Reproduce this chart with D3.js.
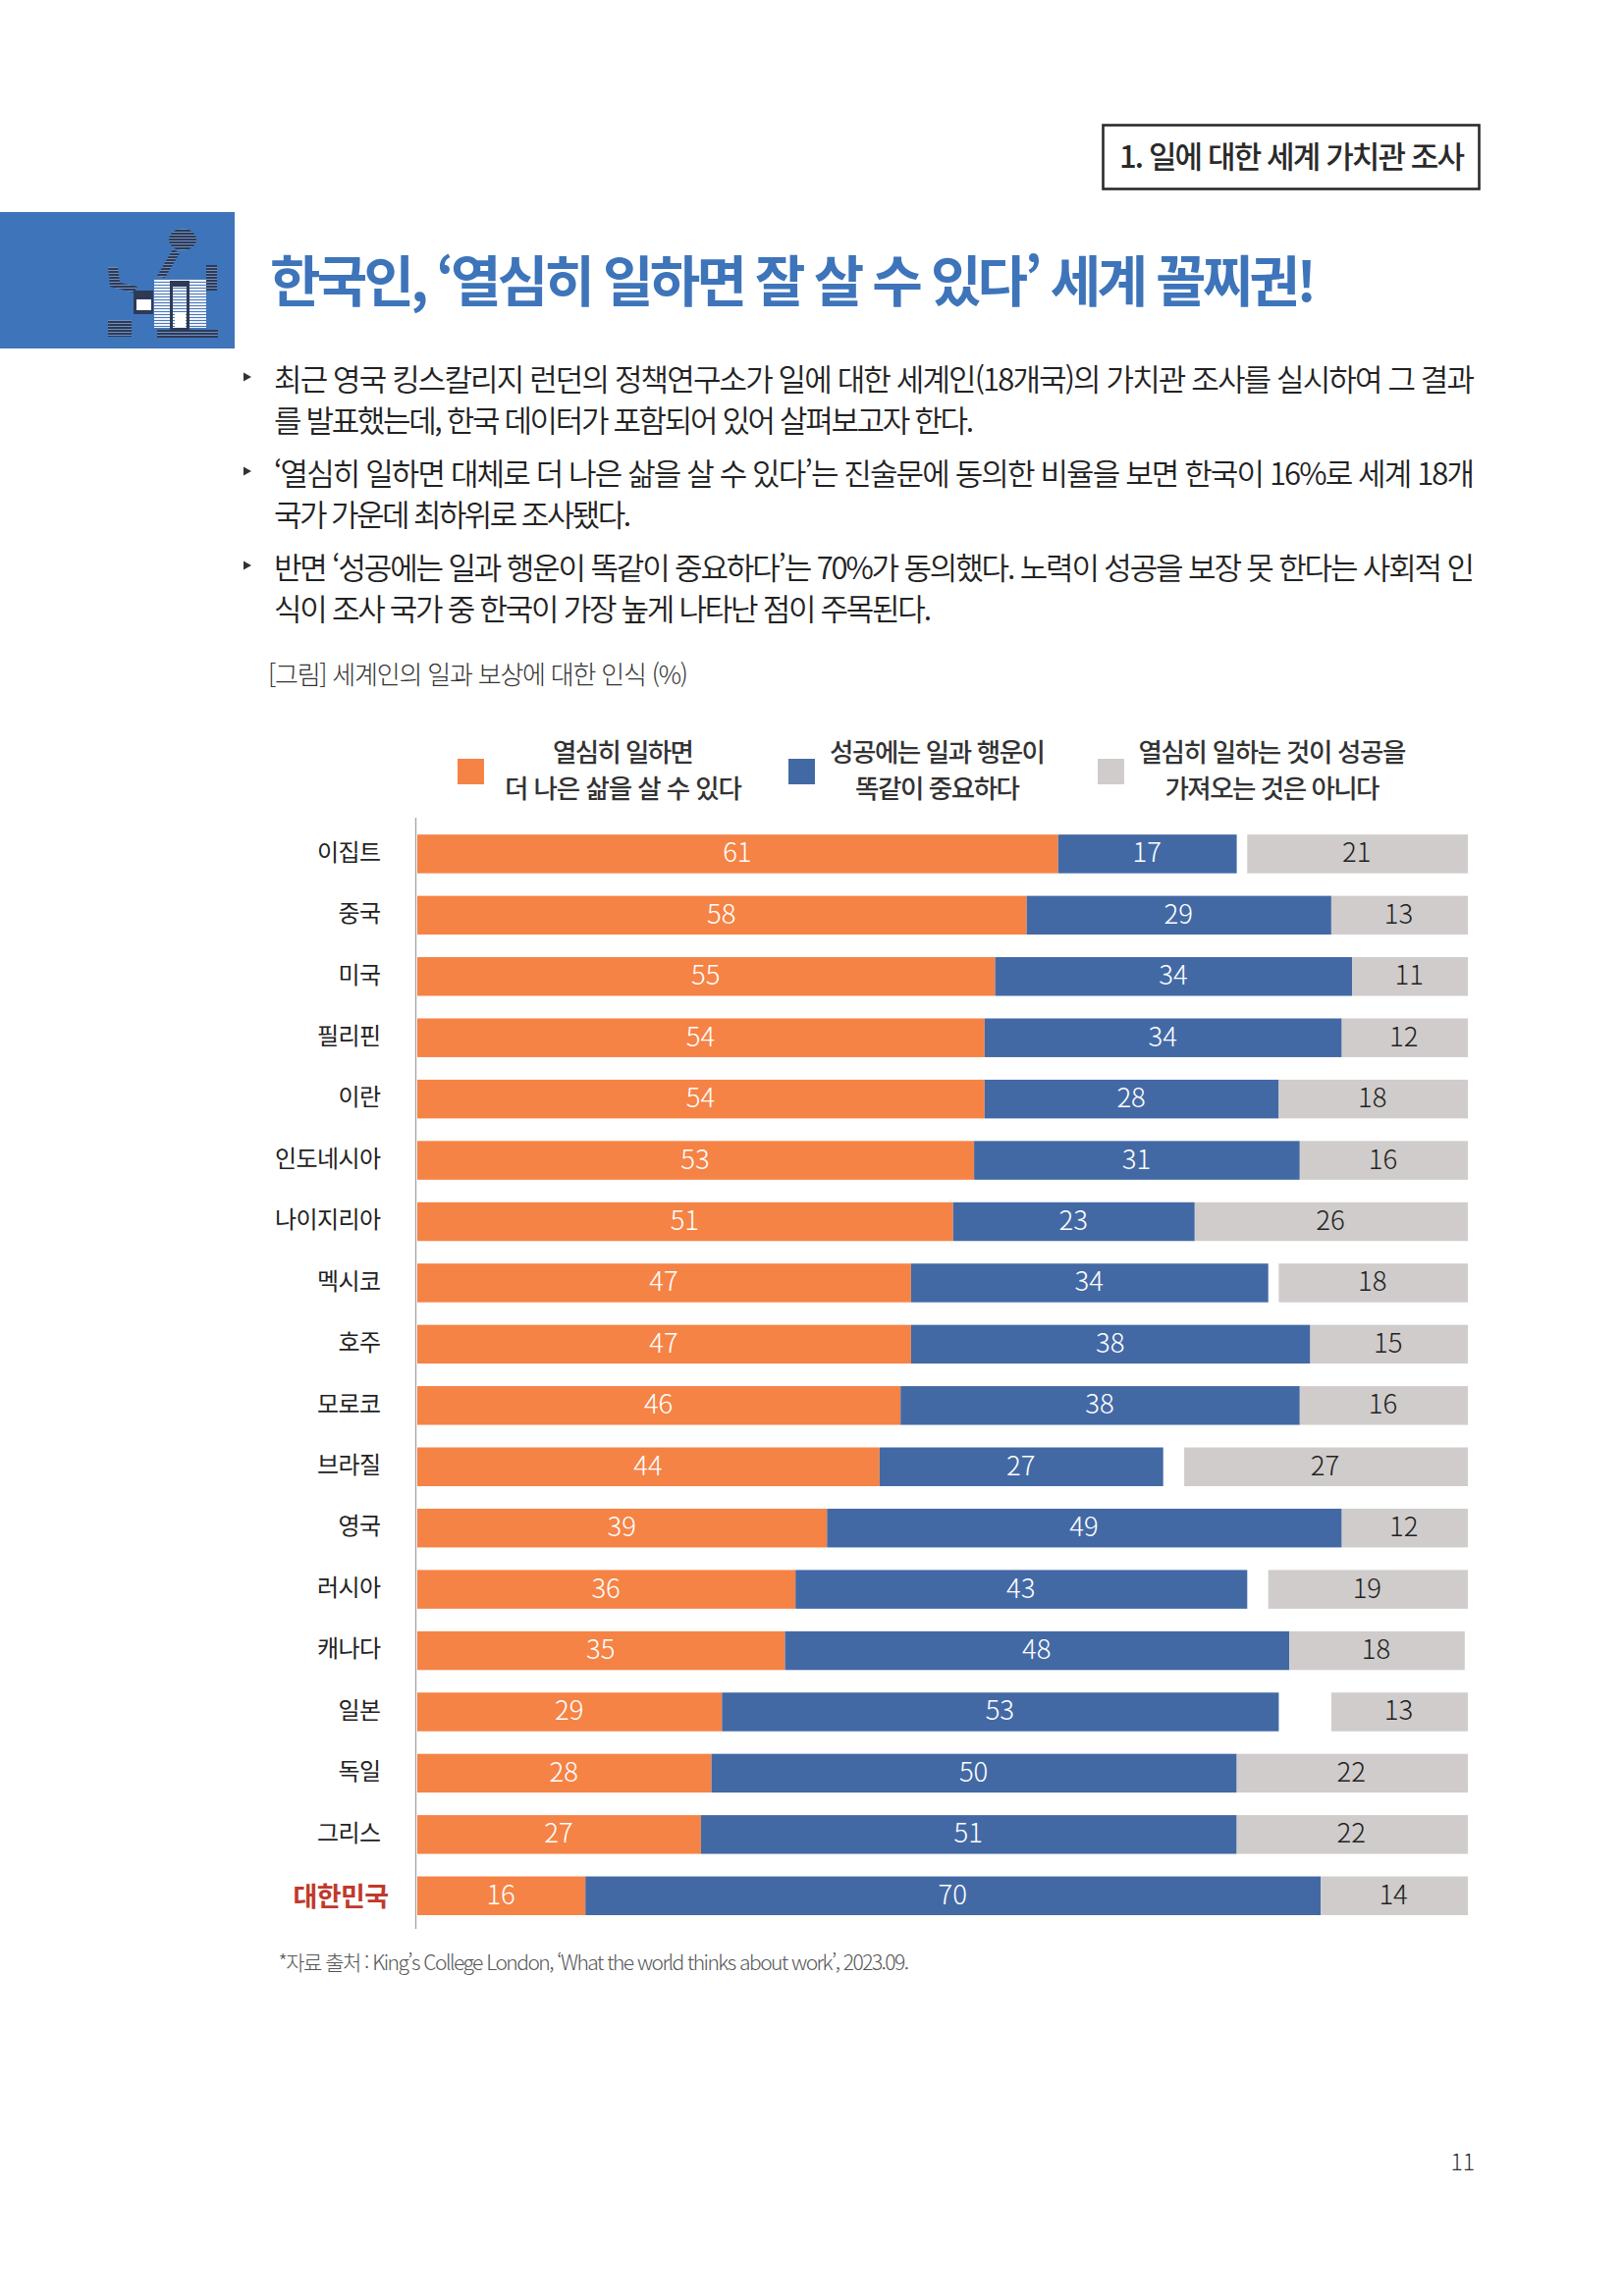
<!DOCTYPE html>
<html lang="ko">
<head>
<meta charset="utf-8">
<script src="https://cdn.jsdelivr.net/npm/d3@7"></script>
<style>
html,body{margin:0;padding:0;background:#fff}
svg{display:block}
text{font-family:"Noto Sans CJK KR","Noto Sans",sans-serif}
</style>
</head>
<body>
<div id="chart"></div>
<script>
const countries = ["이집트","중국","미국","필리핀","이란","인도네시아","나이지리아","멕시코","호주","모로코","브라질","영국","러시아","캐나다","일본","독일","그리스","대한민국"];
const hardWork   = [61,58,55,54,54,53,51,47,47,46,44,39,36,35,29,28,27,16];
const workAndLuck= [17,29,34,34,28,31,23,34,38,38,27,49,43,48,53,50,51,70];
const notSuccess = [21,13,11,12,18,16,26,18,15,16,27,12,19,18,13,22,22,14];
const grayEnd    = [100,100,100,100,100,100,100,100,100,100,100,100,100,99.7,100,100,100,100];
const highlight = "대한민국";
const colors = {hard:"#F58345", luck:"#4369A5", none:"#CFCCCB", accent:"#3E74BA"};

const bodyLines = [
 "최근 영국 킹스칼리지 런던의 정책연구소가 일에 대한 세계인(18개국)의 가치관 조사를 실시하여 그 결과",
 "를 발표했는데, 한국 데이터가 포함되어 있어 살펴보고자 한다.",
 "‘열심히 일하면 대체로 더 나은 삶을 살 수 있다’는 진술문에 동의한 비율을 보면 한국이 16%로 세계 18개",
 "국가 가운데 최하위로 조사됐다.",
 "반면 ‘성공에는 일과 행운이 똑같이 중요하다’는 70%가 동의했다. 노력이 성공을 보장 못 한다는 사회적 인",
 "식이 조사 국가 중 한국이 가장 높게 나타난 점이 주목된다."
];
const bodyY = [397.5,439.5,493.5,535.5,589.5,632];
const bodyX1 = [1502,992,1502,643,1502,949];
const bulletLines = [0,2,4];

const legendItems = [
 {lines:["열심히 일하면","더 나은 삶을 살 수 있다"], widths:[144,242], cx:635, sx:466, c:colors.hard},
 {lines:["성공에는 일과 행운이","똑같이 중요하다"], widths:[220,168], cx:955, sx:803, c:colors.luck},
 {lines:["열심히 일하는 것이 성공을","가져오는 것은 아니다"], widths:[273,219], cx:1296, sx:1118, c:colors.none}
];

const W = 1653, H = 2339;
const svg = d3.select("#chart").append("svg").attr("width",W).attr("height",H).attr("viewBox",`0 0 ${W} ${H}`);
svg.append("rect").attr("width",W).attr("height",H).attr("fill","#fff");

function fit(sel, x0, x1){ return sel.attr("x",x0).attr("textLength",x1-x0).attr("lengthAdjust","spacing"); }

/* section tag */
svg.append("rect").attr("x",1123.5).attr("y",127.5).attr("width",383).attr("height",65)
  .attr("fill","#fff").attr("stroke","#2b2b2b").attr("stroke-width",2.6);
fit(svg.append("text").attr("y",171).attr("font-size",31).attr("font-weight",500).attr("fill","#2a2a2a")
  .text("1. 일에 대한 세계 가치관 조사"),1140,1492);

/* header block + icon */
svg.append("rect").attr("x",0).attr("y",216).attr("width",239).attr("height",139).attr("fill",colors.accent);
const defs = svg.append("defs");
const pat = defs.append("pattern").attr("id","stripes").attr("width",3).attr("height",3).attr("patternUnits","userSpaceOnUse");
pat.append("rect").attr("width",3).attr("height",2).attr("fill","#2e3a55");
pat.append("rect").attr("y",2).attr("width",3).attr("height",1).attr("fill","#6f8fc0");
const pat2 = defs.append("pattern").attr("id","stripesW").attr("width",3).attr("height",3).attr("patternUnits","userSpaceOnUse");
pat2.append("rect").attr("width",3).attr("height",2).attr("fill","#eef3fb");
pat2.append("rect").attr("y",2).attr("width",3).attr("height",1).attr("fill","#4b78b8");
const icon = svg.append("g");
const dark = "url(#stripes)", light = "url(#stripesW)";
icon.append("ellipse").attr("cx",186).attr("cy",244).attr("rx",14).attr("ry",11).attr("fill",dark);
icon.append("path").attr("d","M176 254L183 258L168 283L160 281Z").attr("fill",dark);
icon.append("path").attr("d","M110 272L120 272L122 288L140 292L136 298L112 292Z").attr("fill",dark);
icon.append("rect").attr("x",210).attr("y",270).attr("width",11).attr("height",26).attr("fill",dark);
icon.append("rect").attr("x",157).attr("y",284).attr("width",53).attr("height",50).attr("fill",light);
icon.append("rect").attr("x",173).attr("y",286).attr("width",20).attr("height",50).attr("fill","#2e3a55");
icon.append("rect").attr("x",176).attr("y",292).attr("width",14).attr("height",42).attr("fill",light);
icon.append("rect").attr("x",178).attr("y",318).attr("width",11).attr("height",15).attr("fill","#fff");
icon.append("rect").attr("x",136).attr("y",296).attr("width",20).attr("height",24).attr("fill","#2e3a55");
icon.append("rect").attr("x",139).attr("y",305).attr("width",15).attr("height",11).attr("fill","#fff");
icon.append("rect").attr("x",110).attr("y",326).attr("width",24).attr("height",17).attr("fill",dark);
icon.append("rect").attr("x",160).attr("y",336).attr("width",62).attr("height",8).attr("fill",dark);

/* title */
fit(svg.append("text").attr("y",306.5).attr("font-size",56).attr("font-weight",700).attr("fill",colors.accent)
  .text("한국인, ‘열심히 일하면 잘 살 수 있다’ 세계 꼴찌권!"),275,1341);

/* body */
svg.selectAll("text.body").data(bodyLines).join("text").attr("class","body")
  .attr("y",(d,i)=>bodyY[i]).attr("font-size",31).attr("font-weight",350).attr("fill","#222")
  .attr("x",279).attr("textLength",(d,i)=>bodyX1[i]-279).attr("lengthAdjust","spacing").text(d=>d);
svg.selectAll("path.bullet").data(bulletLines).join("path").attr("class","bullet")
  .attr("d",d=>`M248 ${bodyY[d]-18}L256 ${bodyY[d]-13.5}L248 ${bodyY[d]-9}Z`).attr("fill","#333");

/* caption */
fit(svg.append("text").attr("y",697).attr("font-size",26).attr("font-weight",300).attr("fill","#333")
  .text("[그림] 세계인의 일과 보상에 대한 인식 (%)"),273,701);

/* legend */
const lg = svg.selectAll("g.lg").data(legendItems).join("g").attr("class","lg");
lg.append("rect").attr("x",d=>d.sx).attr("y",773).attr("width",27).attr("height",26).attr("fill",d=>d.c);
lg.each(function(d){
  const g = d3.select(this);
  d.lines.forEach((t,i)=>{
    fit(g.append("text").attr("y",i?813:776).attr("font-size",26.5).attr("font-weight",500).attr("fill","#333").text(t),
        d.cx-d.widths[i]/2, d.cx+d.widths[i]/2);
  });
});

/* chart */
const x = d3.scaleLinear().domain([0,100]).range([425,1495]);
const y = d3.scaleBand().domain(countries).range([838.7,1962.5]).paddingInner(0.368).paddingOuter(0.184);

const rows = countries.map((c,i)=>{
  const o = hardWork[i], b = workAndLuck[i], g = notSuccess[i];
  return {c, o, b, g, gStart: Math.max(100-g, o+b), gEnd: grayEnd[i]};
});
const row = svg.selectAll("g.row").data(rows).join("g").attr("class","row");
const bh = y.bandwidth();
row.append("rect").attr("x",x(0)).attr("y",d=>y(d.c)).attr("width",d=>x(d.o)-x(0)).attr("height",bh).attr("fill",colors.hard);
row.append("rect").attr("x",d=>x(d.o)).attr("y",d=>y(d.c)).attr("width",d=>x(d.o+d.b)-x(d.o)).attr("height",bh).attr("fill",colors.luck);
row.append("rect").attr("x",d=>x(d.gStart)).attr("y",d=>y(d.c)).attr("width",d=>x(d.gEnd)-x(d.gStart)).attr("height",bh).attr("fill",colors.none);

const lab = (sel,cx,v,fill)=>sel.append("text").attr("x",cx).attr("y",d=>y(d.c)+bh/2+8.5)
  .attr("text-anchor","middle").attr("font-family","Roboto,sans-serif").attr("font-size",27.5).attr("font-weight",300).attr("fill",fill).text(v);
lab(row,d=>(x(0)+x(d.o))/2-0.5,d=>d.o,"#fff");
lab(row,d=>(x(d.o)+x(d.o+d.b))/2-0.5,d=>d.b,"#fff");
lab(row,d=>(x(d.gStart)+x(d.gEnd))/2-1,d=>d.g,"#222");

/* category axis */
const axis = d3.axisLeft(y).tickSize(0).tickPadding(0);
const ax = svg.append("g").attr("transform","translate(423.5,0)").call(axis);
ax.select(".domain").remove();
svg.append("line").attr("x1",423.5).attr("x2",423.5).attr("y1",833).attr("y2",1965).attr("stroke","#a8a8a8").attr("stroke-width",1.4);
ax.selectAll(".tick text")
  .attr("x",d=>d===highlight?-28:-36)
  .attr("dy",d=>d===highlight?"0.38em":"0.28em")
  .attr("font-family",'"Noto Sans CJK KR",sans-serif')
  .attr("font-size",d=>d===highlight?27:24)
  .attr("font-weight",d=>d===highlight?700:400)
  .attr("letter-spacing",-0.6)
  .attr("fill",d=>d===highlight?"#C0392B":"#222");

/* source, page */
fit(svg.append("text").attr("y",2007).attr("font-size",21).attr("font-weight",300).attr("fill","#555")
  .text("*자료 출처 : King’s College London, ‘What the world thinks about work’, 2023.09."),283.5,926);
svg.append("text").attr("x",1502).attr("y",2211).attr("text-anchor","end").attr("font-family","Roboto,sans-serif").attr("font-size",23).attr("font-weight",300).attr("fill","#333").text("11");
</script>
</body>
</html>
